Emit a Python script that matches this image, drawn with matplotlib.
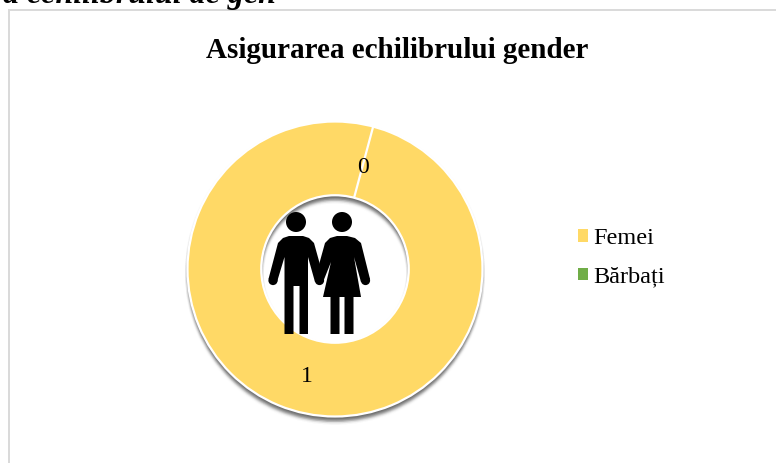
import matplotlib
matplotlib.use("Agg")
import matplotlib.pyplot as plt
import matplotlib.patheffects as pe
from matplotlib.patches import Circle, Polygon, Patch
from matplotlib.transforms import ScaledTranslation
import math

categories = ["Femei", "Bărbați"]
values = [1, 0]
value_labels = ["1", "0"]
colors = ["#FFD966", "#70AD47"]
title = "Asigurarea echilibrului gender"
clipped_heading = "a echilibrului de gen"

W, H = 776, 463
plt.rcParams["font.family"] = ["Liberation Serif", "DejaVu Serif"]
fig = plt.figure(figsize=(W / 100, H / 100), dpi=100, facecolor="white")

# pixel overlay for furniture
bg = fig.add_axes([0, 0, 1, 1], zorder=0)
bg.set_xlim(0, W); bg.set_ylim(H, 0); bg.axis("off")
bg.plot([8.5, 8.5, W + 5], [H + 5, 9.5, 9.5], color="#D9D9D9", lw=1.4, solid_joinstyle="miter")
bg.text(276, 3, clipped_heading, ha="right", va="baseline", fontsize=23,
        fontweight="bold", fontstyle="italic", color="black")
bg.text(397.5, 58, title, ha="center", va="baseline", fontsize=21,
        fontweight="bold", color="black")

# doughnut
cx, cy, R = 335, 269, 147.5
pad = 1.15
ax = fig.add_axes([(cx - R * pad) / W, 1 - (cy + R * pad) / H, 2 * R * pad / W, 2 * R * pad / H], zorder=1)

# soft drop shadow: a stack of faint offset copies approximating a blur
shadow = []
for i in range(-2, 3):
    for j in range(-3, 4):
        weight = math.exp(-(i * i + j * j) / 4.5)
        shadow.append(pe.SimplePatchShadow(offset=(i * 0.9, -3.0 + j * 1.0),
                                           shadow_rgbFace="black", alpha=0.065 * weight))

wedges, texts = ax.pie(values, labels=value_labels, colors=colors, startangle=75, counterclock=False,
                       radius=1, labeldistance=0.735,
                       wedgeprops=dict(width=0.50, edgecolor="white", linewidth=1.6, clip_on=False),
                       textprops=dict(fontsize=17, color="black"))
for t in texts:
    t.set_ha("center"); t.set_va("center")
    t.set_transform(t.get_transform() + ScaledTranslation(0, -3 / 100, fig.dpi_scale_trans))
for w in wedges:
    w.set_path_effects(shadow + [pe.Normal()])
ax.set_xlim(-pad, pad); ax.set_ylim(-pad, pad)
ax.set_aspect("equal")
ax.axis("off")

# pictogram
ic = fig.add_axes([0, 0, 1, 1], zorder=2)
ic.set_xlim(0, W); ic.set_ylim(H, 0); ic.axis("off")
k = "black"
for x in (296, 342):
    ic.add_patch(Circle((x, 222), 10, color=k, lw=0))
for x in (273, 319.5, 365.5):
    ic.add_patch(Circle((x, 280.5), 4.6, color=k, lw=0))
ic.add_patch(Polygon([(289, 236), (303, 236), (309, 238), (314, 243), (324, 279), (315, 282), (308, 257),
                      (308, 334), (299.5, 334), (299.5, 286), (293.5, 286), (293.5, 334), (284.5, 334), (284.5, 257),
                      (277, 282), (268.5, 279), (278, 243), (283, 238)],
                     closed=True, color=k, lw=0))
ic.add_patch(Polygon([(337, 236), (347, 236), (355, 238), (361, 243), (370, 279), (361, 282), (354, 257),
                      (361, 297), (353.5, 297), (353.5, 334), (344.5, 334), (344.5, 297), (339.5, 297), (339.5, 334),
                      (330.5, 334), (330.5, 297), (323, 297), (331, 262), (323, 282), (315, 279), (325, 243),
                      (330, 238)],
                     closed=True, color=k, lw=0))

# legend
handles = [Patch(facecolor=c, edgecolor="none") for c in colors]
fig.legend(handles, categories, loc="center left", bbox_to_anchor=(578 / W, 1 - 258 / H), frameon=False,
           fontsize=17.5, handlelength=0.41, handleheight=0.41, handletextpad=0.22, labelspacing=0.72,
           borderpad=0, borderaxespad=0)

fig.savefig("out.png", dpi=100)
